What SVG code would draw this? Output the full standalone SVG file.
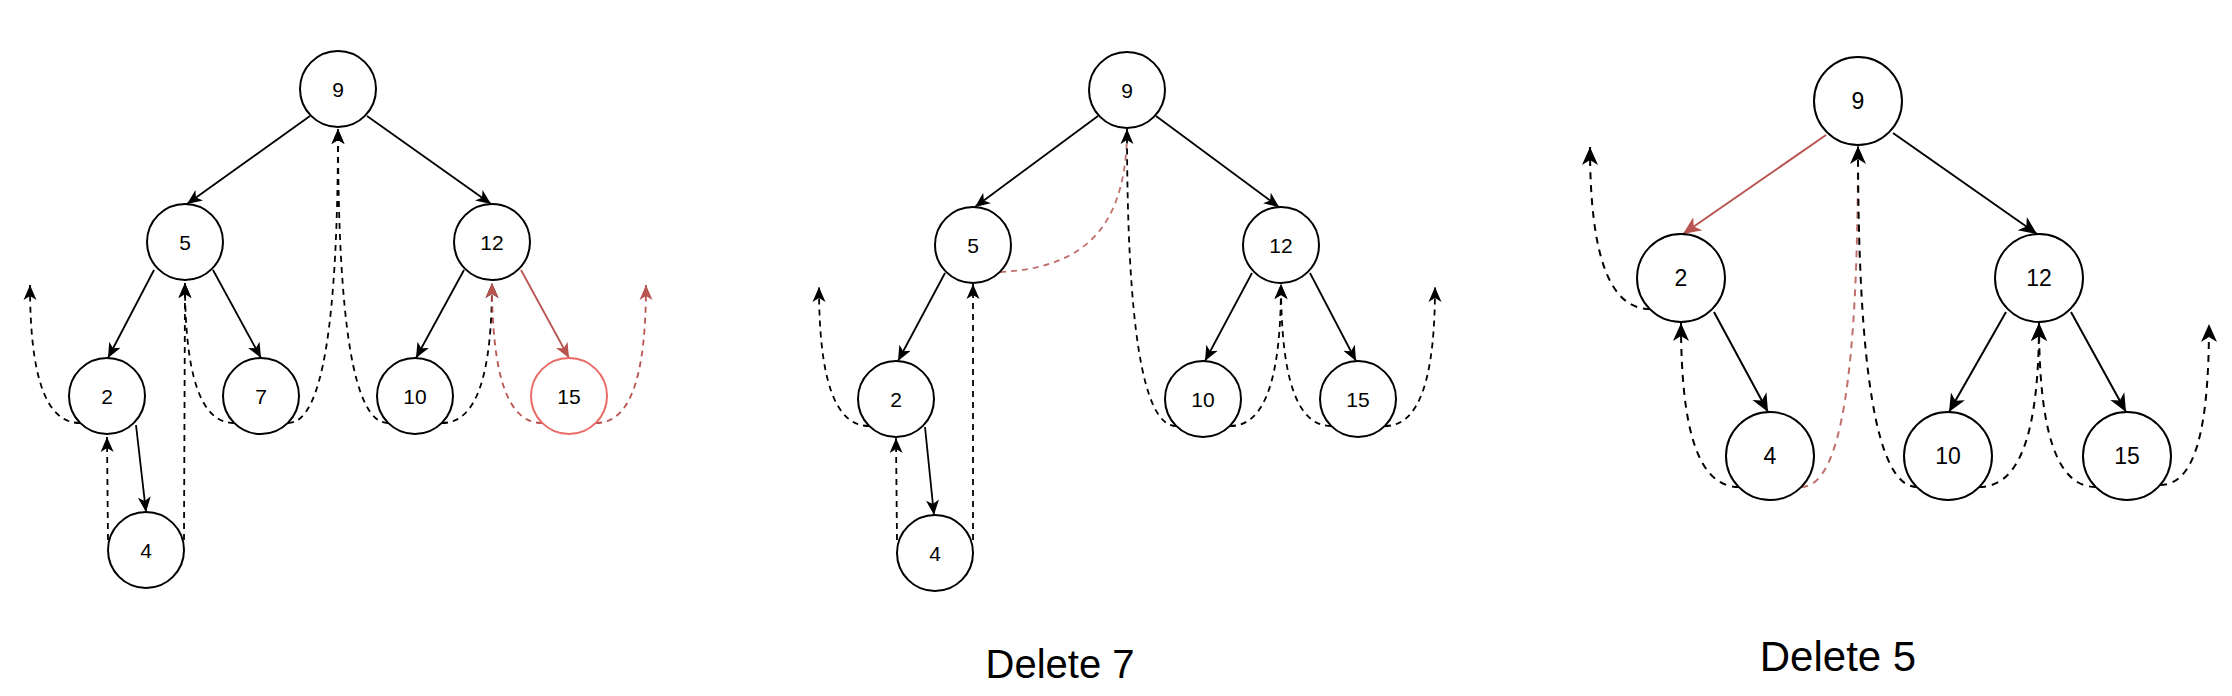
<svg xmlns="http://www.w3.org/2000/svg" width="2232" height="696" viewBox="0 0 2232 696">
<defs>
<marker id="ab" markerUnits="userSpaceOnUse" markerWidth="18" markerHeight="16" viewBox="0 -8 18 16" refX="15" refY="0" orient="auto"><path d="M0,-6.5 L15,0 L0,6.5 L4,0 Z" fill="#000"/></marker>
<marker id="ar" markerUnits="userSpaceOnUse" markerWidth="18" markerHeight="16" viewBox="0 -8 18 16" refX="15" refY="0" orient="auto"><path d="M0,-6.5 L15,0 L0,6.5 L4,0 Z" fill="#b85450"/></marker>
<marker id="ab3" markerUnits="userSpaceOnUse" markerWidth="20" markerHeight="20" viewBox="0 -10 20 20" refX="18" refY="0" orient="auto"><path d="M0,-8 L18,0 L0,8 L5,0 Z" fill="#000"/></marker>
<marker id="ar3" markerUnits="userSpaceOnUse" markerWidth="20" markerHeight="20" viewBox="0 -10 20 20" refX="18" refY="0" orient="auto"><path d="M0,-8 L18,0 L0,8 L5,0 Z" fill="#b85450"/></marker>
<style>
.n{fill:#fff;stroke:#000;stroke-width:2}
.nr{fill:#fff;stroke:#ea6b66;stroke-width:2}
.t{font-family:"Liberation Sans",Arial,sans-serif;font-size:21px;text-anchor:middle;dominant-baseline:central;fill:#000}
.t3{font-size:23px}
.s{fill:none;stroke:#000;stroke-width:1.8;marker-end:url(#ab)}
.sr{fill:none;stroke:#b85450;stroke-width:1.8;marker-end:url(#ar)}
.d{fill:none;stroke:#000;stroke-width:1.8;stroke-dasharray:6 5;marker-end:url(#ab)}
.dr{fill:none;stroke:#b85450;stroke-width:1.8;stroke-dasharray:6 5;marker-end:url(#ar)}
.drn{fill:none;stroke:#c0706c;stroke-width:1.8;stroke-dasharray:6 5}
.s3{fill:none;stroke:#000;stroke-width:2;marker-end:url(#ab3)}
.sr3{fill:none;stroke:#b85450;stroke-width:2;marker-end:url(#ar3)}
.d3{fill:none;stroke:#000;stroke-width:2;stroke-dasharray:7 6;marker-end:url(#ab3)}
.drn3{fill:none;stroke:#c0706c;stroke-width:2;stroke-dasharray:7 6}
.cap{font-family:"Liberation Sans",Arial,sans-serif;text-anchor:middle;fill:#000}
</style>
</defs>
<g id="connectors">
<!-- tree 1 -->
<path class="s" d="M310 116 L187 204"/>
<path class="s" d="M367 116 L491 204"/>
<path class="s" d="M154 270 L108 358"/>
<path class="s" d="M213 270 L261 358"/>
<path class="s" d="M464 270 L416 358"/>
<path class="sr" d="M521 270 L569 358"/>
<path class="s" d="M136 425 L146 512"/>
<path class="d" d="M80 423 C45 423 30 375 30 285"/>
<path class="d" d="M108 540 L107 437"/>
<path class="d" d="M184 540 L185 283"/>
<path class="d" d="M234 423 C200 423 185 374 185 283"/>
<path class="d" d="M288 423 C323 423 338 320 338 129"/>
<path class="d" d="M388 423 C353 423 338 320 338 129"/>
<path class="d" d="M442 423 C477 423 492 374 492 283"/>
<path class="dr" d="M542 423 C507 423 492 374 492 283"/>
<path class="dr" d="M596 423 C631 423 646 375 646 285"/>
<!-- tree 2 -->
<path class="s" d="M1098 116 L975 207"/>
<path class="s" d="M1156 116 L1279 207"/>
<path class="s" d="M945 273 L898 361"/>
<path class="s" d="M1252 273 L1205 361"/>
<path class="s" d="M1310 273 L1356 361"/>
<path class="s" d="M925 427 L934 515"/>
<path class="d" d="M869 426 C834 426 819 377 819 287"/>
<path class="d" d="M897 540 L896 438"/>
<path class="d" d="M973 540 L973 284"/>
<path class="drn" d="M1000 272 C1080 268 1125 232 1127 135"/>
<path class="d" d="M1176 426 C1142 426 1127 322 1127 129"/>
<path class="d" d="M1230 426 C1266 426 1281 376 1281 284"/>
<path class="d" d="M1331 426 C1296 426 1281 376 1281 284"/>
<path class="d" d="M1385 426 C1420 426 1435 377 1435 287"/>
<!-- tree 3 -->
<path class="sr3" d="M1826 135 L1683 234"/>
<path class="s3" d="M1893 133 L2037 234"/>
<path class="s3" d="M1714 312 L1768 412"/>
<path class="s3" d="M2006 312 L1949 412"/>
<path class="s3" d="M2071 312 L2126 412"/>
<path class="d3" d="M1650 309 C1608 309 1590 252 1590 147"/>
<path class="d3" d="M1739 487 C1698 487 1681 430 1681 323"/>
<path class="drn3" d="M1801 487 C1842 487 1858 370 1858 150"/>
<path class="d3" d="M1917 487 C1876 487 1858 368 1858 146"/>
<path class="d3" d="M1979 487 C2021 487 2039 430 2039 323"/>
<path class="d3" d="M2096 487 C2056 487 2039 430 2039 323"/>
<path class="d3" d="M2160 485 C2195 485 2209 430 2209 324"/>
</g>
<!-- tree 1 nodes -->
<g id="t1-9"><circle class="n" cx="338" cy="89" r="38"/><text class="t" x="338" y="89">9</text></g>
<g id="t1-5"><circle class="n" cx="185" cy="242" r="38"/><text class="t" x="185" y="242">5</text></g>
<g id="t1-12"><circle class="n" cx="492" cy="242" r="38"/><text class="t" x="492" y="242">12</text></g>
<g id="t1-2"><circle class="n" cx="107" cy="396" r="38"/><text class="t" x="107" y="396">2</text></g>
<g id="t1-7"><circle class="n" cx="261" cy="396" r="38"/><text class="t" x="261" y="396">7</text></g>
<g id="t1-10"><circle class="n" cx="415" cy="396" r="38"/><text class="t" x="415" y="396">10</text></g>
<g id="t1-15"><circle class="nr" cx="569" cy="396" r="38"/><text class="t" x="569" y="396">15</text></g>
<g id="t1-4"><circle class="n" cx="146" cy="550" r="38"/><text class="t" x="146" y="550">4</text></g>
<!-- tree 2 nodes -->
<g id="t2-9"><circle class="n" cx="1127" cy="90" r="38"/><text class="t" x="1127" y="90">9</text></g>
<g id="t2-5"><circle class="n" cx="973" cy="245" r="38"/><text class="t" x="973" y="245">5</text></g>
<g id="t2-12"><circle class="n" cx="1281" cy="245" r="38"/><text class="t" x="1281" y="245">12</text></g>
<g id="t2-2"><circle class="n" cx="896" cy="399" r="38"/><text class="t" x="896" y="399">2</text></g>
<g id="t2-10"><circle class="n" cx="1203" cy="399" r="38"/><text class="t" x="1203" y="399">10</text></g>
<g id="t2-15"><circle class="n" cx="1358" cy="399" r="38"/><text class="t" x="1358" y="399">15</text></g>
<g id="t2-4"><circle class="n" cx="935" cy="553" r="38"/><text class="t" x="935" y="553">4</text></g>
<!-- tree 3 nodes -->
<g id="t3-9"><circle class="n" cx="1858" cy="101" r="44"/><text class="t t3" x="1858" y="101">9</text></g>
<g id="t3-2"><circle class="n" cx="1681" cy="278" r="44"/><text class="t t3" x="1681" y="278">2</text></g>
<g id="t3-12"><circle class="n" cx="2039" cy="278" r="44"/><text class="t t3" x="2039" y="278">12</text></g>
<g id="t3-4"><circle class="n" cx="1770" cy="456" r="44"/><text class="t t3" x="1770" y="456">4</text></g>
<g id="t3-10"><circle class="n" cx="1948" cy="456" r="44"/><text class="t t3" x="1948" y="456">10</text></g>
<g id="t3-15"><circle class="n" cx="2127" cy="456" r="44"/><text class="t t3" x="2127" y="456">15</text></g>
<g id="captions">
<text class="cap" x="1060" y="678" font-size="40">Delete 7</text>
<text class="cap" x="1838" y="671" font-size="42">Delete 5</text>
</g>
</svg>
